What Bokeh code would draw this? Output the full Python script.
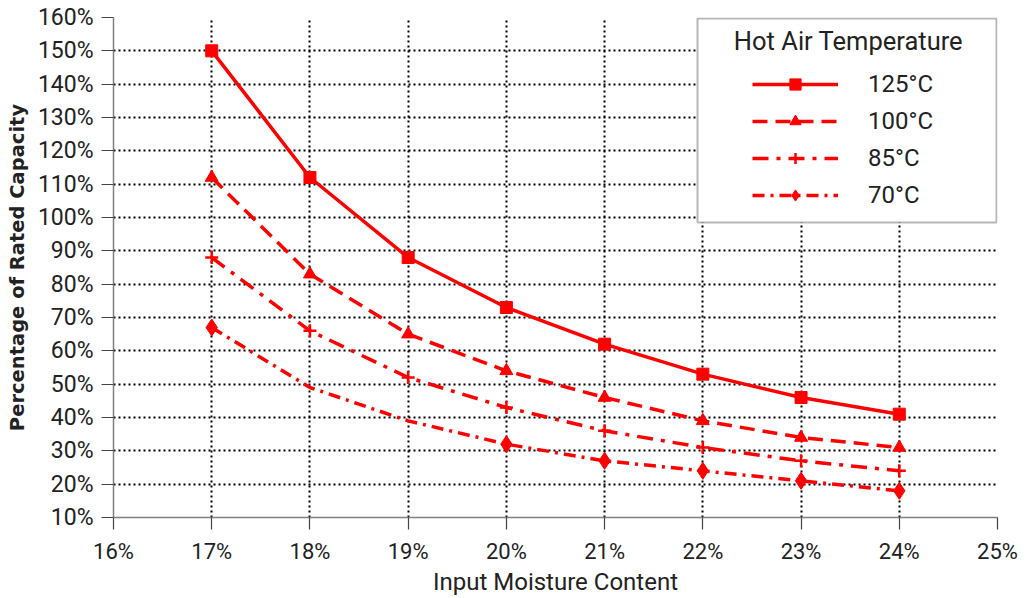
from bokeh.plotting import figure
from bokeh.models import (Range1d, FixedTicker, CustomJSTickFormatter, Legend, LegendItem,
                          Label, BoxAnnotation)
from bokeh.embed import file_html
from bokeh.resources import INLINE

# ---- data ----
moisture = [17, 18, 19, 20, 21, 22, 23, 24]
cap_125 = [150, 112, 88, 73, 62, 53, 46, 41]
cap_100 = [112, 83, 65, 54, 46, 39, 34, 31]
cap_85 = [88, 66, 52, 43, 36, 31, 27, 24]
cap_70 = [67, 49, 39, 32, 27, 24, 21, 18]
marked_70 = [True, False, False, True, True, True, True, True]
series_labels = ["125°C", "100°C", "85°C", "70°C"]
x_ticks = [16, 17, 18, 19, 20, 21, 22, 23, 24, 25]
y_ticks = [10, 20, 30, 40, 50, 60, 70, 80, 90, 100, 110, 120, 130, 140, 150, 160]

RED = "#ff0000"
FONT = "Roboto"

p = figure(width=1027, height=598, x_range=Range1d(16, 25), y_range=Range1d(10, 160),
           output_backend="svg", toolbar_location=None,
           min_border_left=113, min_border_right=30, min_border_top=17, min_border_bottom=81)
p.outline_line_color = None
p.background_fill_color = "white"
p.border_fill_color = "white"

# axes
p.xaxis.ticker = FixedTicker(ticks=x_ticks)
p.yaxis.ticker = FixedTicker(ticks=y_ticks)
fmt = "return tick.toFixed(0) + '%';"
p.xaxis.formatter = CustomJSTickFormatter(code=fmt)
p.yaxis.formatter = CustomJSTickFormatter(code=fmt)
for ax in (p.xaxis, p.yaxis):
    ax.axis_line_color = "#808080"
    ax.axis_line_width = 1.5
    ax.major_tick_line_color = "#444444"
    ax.major_tick_line_width = 1.2
    ax.major_tick_out = 12
    ax.major_tick_in = 0
    ax.minor_tick_out = 0
    ax.minor_tick_in = 0
    ax.major_label_text_font = FONT
    ax.major_label_text_color = "#222222"
    ax.axis_label_text_color = "#222222"
p.xaxis.major_label_text_font_size = "22px"
p.yaxis.major_label_text_font_size = "23px"
p.xaxis.major_label_standoff = 9
p.yaxis.major_label_standoff = 8
p.xaxis.axis_label = "Input Moisture Content"
p.xaxis.axis_label_text_font = FONT
p.xaxis.axis_label_text_font_size = "24px"
p.xaxis.axis_label_text_font_style = "normal"
p.xaxis.axis_label_standoff = 1
p.yaxis.axis_label = "Percentage of Rated Capacity"
p.yaxis.axis_label_text_font = "DejaVu Sans"
p.yaxis.axis_label_text_font_size = "19.5px"
p.yaxis.axis_label_text_font_style = "bold"
p.yaxis.axis_label_standoff = 6

# grid
p.grid.grid_line_color = "black"
p.grid.grid_line_dash = "2 3"
p.grid.grid_line_width = 2

LW = 3.5
r125 = p.line(moisture, cap_125, line_color=RED, line_width=LW, line_join="round")
s125 = p.scatter(moisture, cap_125, marker="square", size=12, color=RED)

r100 = p.line(moisture, cap_100, line_color=RED, line_width=LW, line_dash="15 8")
s100 = p.scatter(moisture, cap_100, marker="triangle", size=13, color=RED)

r85 = p.line(moisture, cap_85, line_color=RED, line_width=LW, line_dash="16 8 4 8")
s85 = p.scatter(moisture, cap_85, marker="cross", size=13, line_color=RED, line_width=2.5)

r70 = p.line(moisture, cap_70, line_color=RED, line_width=LW, line_dash="12 6 3 6")
m_x = [x for x, m in zip(moisture, marked_70) if m]
m_y = [y for y, m in zip(cap_70, marked_70) if m]
s70 = p.scatter(m_x, m_y, marker="diamond", size=17, color=RED)

# legend box
box = BoxAnnotation(left=584, right=883, top=499, bottom=295,
                    left_units="screen", right_units="screen",
                    top_units="screen", bottom_units="screen",
                    fill_color="white", fill_alpha=1.0,
                    line_color="#111111", line_width=2, level="annotation")
p.add_layout(box)

title = Label(x=735, y=477, x_units="screen", y_units="screen",
              text="Hot Air Temperature", text_font=FONT, text_font_size="25.5px",
              text_align="center", text_baseline="middle", text_color="#222222")
p.add_layout(title)

legend = Legend(items=[
    LegendItem(label=series_labels[0], renderers=[r125, s125]),
    LegendItem(label=series_labels[1], renderers=[r100, s100]),
    LegendItem(label=series_labels[2], renderers=[r85, s85]),
    LegendItem(label=series_labels[3], renderers=[r70, s70]),
], location=(639, 308), padding=0, margin=0, spacing=9,
    glyph_width=86, glyph_height=28, label_height=28, label_standoff=30,
    label_text_font=FONT, label_text_font_size="24px", label_text_color="#222222",
    border_line_color=None, background_fill_alpha=0.0)
p.add_layout(legend)

open("out.html", "w").write(file_html(p, INLINE))
